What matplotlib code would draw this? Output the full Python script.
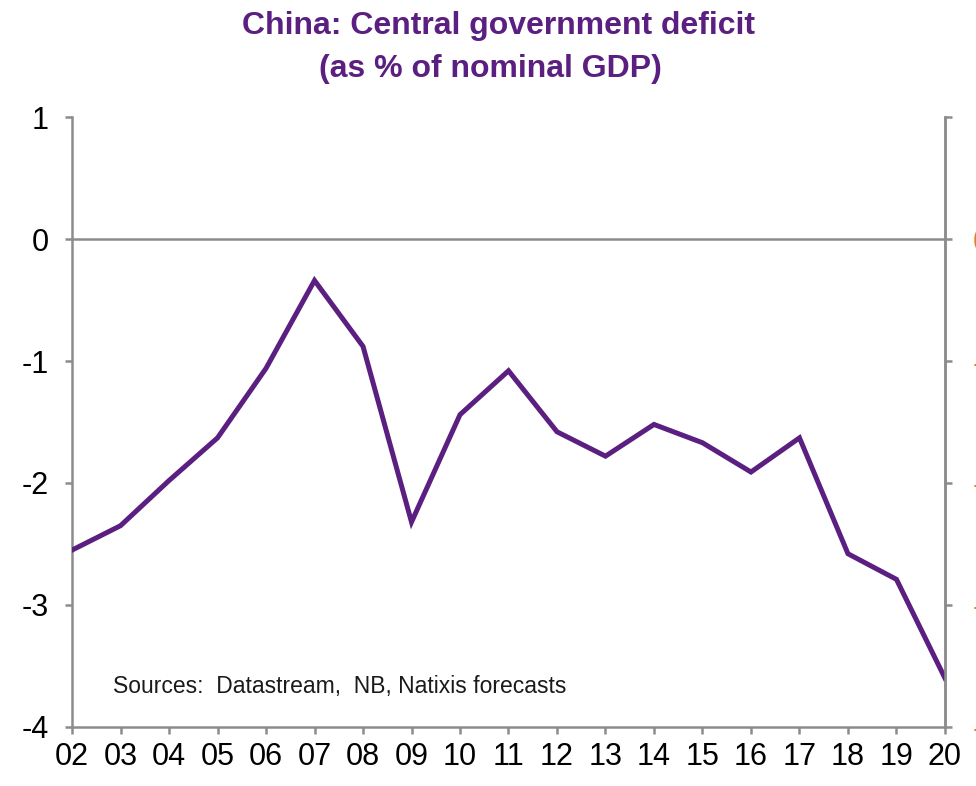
import matplotlib
matplotlib.use("Agg")
import matplotlib.pyplot as plt
from matplotlib import font_manager

# Data
years = ["02", "03", "04", "05", "06", "07", "08", "09", "10", "11",
         "12", "13", "14", "15", "16", "17", "18", "19", "20"]
deficit = [-2.55, -2.35, -1.98, -1.63, -1.06, -0.34, -0.88, -2.32, -1.44, -1.08,
           -1.58, -1.78, -1.52, -1.67, -1.91, -1.63, -2.58, -2.79, -3.60]
y_ticks = [-4, -3, -2, -1, 0, 1]
right_labels = ["-4", "-3", "-2", "-1", "0", ""]

purple = "#5a1f80"
grey = "#8c8c8c"
orange = "#d9822b"

installed = {f.name for f in font_manager.fontManager.ttflist}
title_font = "Liberation Sans Narrow" if "Liberation Sans Narrow" in installed else "Liberation Sans"
plt.rcParams["font.family"] = ["Liberation Sans", "DejaVu Sans"]

fig = plt.figure(figsize=(9.76, 7.86), dpi=100)
ax = fig.add_axes([0.0738, 0.0751, 0.8944, 0.7760])

x = list(range(len(years)))
ax.plot(x, deficit, color=purple, linewidth=3.6, solid_joinstyle="miter", zorder=3)
ax.axhline(0, color=grey, linewidth=1.8, zorder=1)

ax.set_xlim(0, len(years) - 1)
ax.set_ylim(-4, 1)
ax.set_xticks(x)
ax.set_xticklabels(years)
ax.set_yticks(y_ticks)
ax.set_yticklabels([str(v) for v in y_ticks])

for side in ["left", "right", "bottom"]:
    ax.spines[side].set_color(grey)
    ax.spines[side].set_linewidth(1.8)
ax.spines["top"].set_visible(False)

ax.tick_params(axis="both", colors=grey, width=1.8, length=5, labelsize=22,
               labelcolor="black", direction="out")
ax.tick_params(axis="x", pad=6)
ax.tick_params(axis="y", pad=12)

# right-hand axis: ticks visible, orange labels mostly cut by the figure edge
ax2 = ax.twinx()
ax2.set_ylim(-4, 1)
ax2.set_yticks(y_ticks)
ax2.set_yticklabels(right_labels)
for side in ["left", "top", "bottom"]:
    ax2.spines[side].set_visible(False)
ax2.spines["right"].set_color(grey)
ax2.spines["right"].set_linewidth(1.8)
ax2.tick_params(axis="y", colors=grey, width=1.8, length=5, labelsize=22,
                labelcolor=orange, pad=15)

ax.text(0.047, 0.055, "Sources:  Datastream,  NB, Natixis forecasts",
        transform=ax.transAxes, fontsize=16.5, color="#1a1a1a")

fig.text(0.511, 0.967, "China: Central government deficit", ha="center", va="center",
         fontsize=23, fontweight="bold", color=purple, family=title_font)
fig.text(0.502, 0.912, "(as % of nominal GDP)", ha="center", va="center",
         fontsize=23, fontweight="bold", color=purple, family=title_font)

fig.savefig("out.png", dpi=100)
